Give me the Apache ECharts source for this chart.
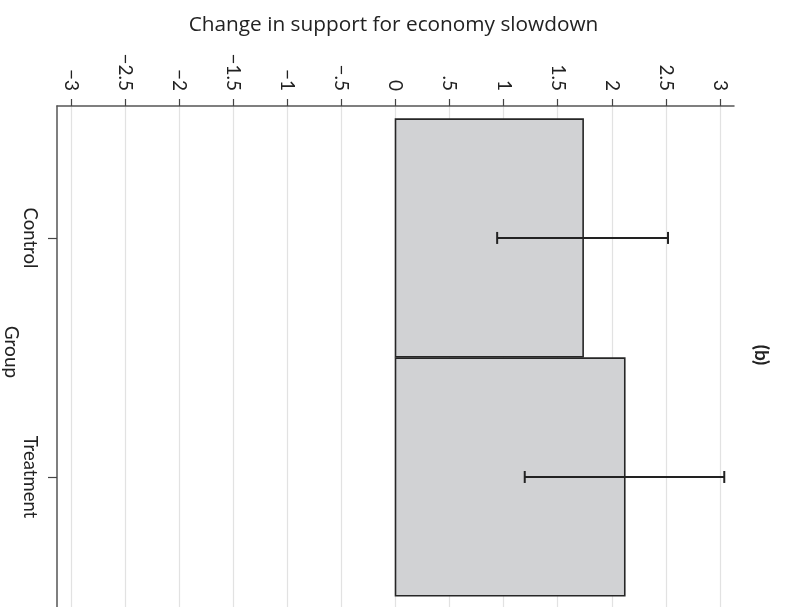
<!DOCTYPE html>
<html>
<head>
<meta charset="utf-8">
<script src="https://cdn.jsdelivr.net/npm/echarts@6/dist/echarts.min.js"></script>
<style>
  html, body { margin: 0; padding: 0; background: #fff; }
  #chart { width: 787px; height: 607px; }
</style>
</head>
<body>
<div id="chart"></div>
<script>
// Groups and their mean change, with confidence bounds
const categories = ['Control', 'Treatment'];
const meanChange = [1.735, 2.12];
const ciLower = [0.94, 1.195];
const ciUpper = [2.52, 3.04];

// Value-axis ticks and their printed labels
const tickValues = [-3, -2.5, -2, -1.5, -1, -0.5, 0, 0.5, 1, 1.5, 2, 2.5, 3];
const tickLabels = ['\u22123', '\u22122.5', '\u22122', '\u22121.5', '\u22121', '\u2212.5', '0', '.5', '1', '1.5', '2', '2.5', '3'];

const titleText = 'Change in support for economy slowdown';
const groupAxisName = 'Group';
const panelTag = '(b)';

const FONT = 'Lato';
const TEXT = '#222';

const chart = echarts.init(document.getElementById('chart'));

const barData = categories.map((c, i) => [meanChange[i], i + 1]);
const ciData = categories.map((c, i) => [i + 1, ciLower[i], ciUpper[i]]);

// Rotated side text (reads top to bottom)
function sideText(text, x, y, bold) {
  return {
    type: 'text',
    x: x,
    y: y,
    rotation: -Math.PI / 2,
    style: {
      text: text,
      fontFamily: FONT,
      fontSize: 19,
      fontWeight: bold ? 'bold' : 'normal',
      fill: TEXT,
      align: 'center',
      verticalAlign: 'middle'
    }
  };
}

chart.setOption({
  animation: false,
  backgroundColor: '#fff',
  title: {
    text: titleText,
    left: 'center',
    top: 10,
    textStyle: { fontFamily: 'Open Sans', fontSize: 20.8, fontWeight: 'normal', color: TEXT }
  },
  graphic: [
    sideText(groupAxisName, 11, 352, false),
    sideText(panelTag, 761, 355, true)
  ],
  grid: { left: 57, right: 53, top: 106, bottom: 0, containLabel: false, outerBoundsMode: 'none' },
  xAxis: {
    type: 'value',
    position: 'top',
    min: -3.13,
    max: 3.13,
    axisLine: { show: true, onZero: false, lineStyle: { color: '#555', width: 1.5 } },
    axisTick: {
      show: true,
      length: 7,
      customValues: tickValues,
      lineStyle: { color: '#444', width: 1.2 }
    },
    axisLabel: {
      customValues: tickValues,
      rotate: 90,
      margin: 15,
      fontFamily: FONT,
      fontSize: 19,
      color: TEXT,
      formatter: v => {
        const k = tickValues.findIndex(t => Math.abs(t - v) < 1e-6);
        return k >= 0 ? tickLabels[k] : '';
      }
    },
    splitLine: { show: true, lineStyle: { color: '#e2e2e2', width: 1.2 } }
  },
  yAxis: {
    type: 'value',
    inverse: true,
    min: 0.448,
    max: 2.544,
    axisLine: { show: true, onZero: false, lineStyle: { color: '#555', width: 1.5 } },
    axisTick: {
      show: true,
      length: 9,
      customValues: [1, 2],
      lineStyle: { color: '#444', width: 1.2 }
    },
    axisLabel: {
      customValues: [1, 2],
      rotate: -90,
      margin: 18,
      fontFamily: FONT,
      fontSize: 18.5,
      color: TEXT,
      formatter: v => categories[Math.round(v) - 1] || ''
    },
    splitLine: { show: false }
  },
  series: [
    {
      // Horizontal bars starting at zero, one per group
      type: 'custom',
      name: 'mean',
      encode: { x: 0, y: 1 },
      data: barData,
      renderItem: (params, api) => {
        const v = api.value(0);
        const g = api.value(1);
        const p0 = api.coord([0, g]);
        const p1 = api.coord([v, g]);
        const h = api.size([0, 1])[1] * 0.994;
        return {
          type: 'rect',
          shape: { x: p0[0], y: p0[1] - h / 2, width: p1[0] - p0[0], height: h },
          style: { fill: '#d1d2d4', stroke: '#262626', lineWidth: 1.6 }
        };
      },
      z: 2
    },
    {
      // Confidence interval whiskers with end caps
      type: 'custom',
      name: 'ci',
      encode: { x: [1, 2], y: 0 },
      data: ciData,
      renderItem: (params, api) => {
        const g = api.value(0);
        const a = api.coord([api.value(1), g]);
        const b = api.coord([api.value(2), g]);
        const cap = 6;
        const st = { stroke: '#222', lineWidth: 2 };
        return {
          type: 'group',
          children: [
            { type: 'line', shape: { x1: a[0], y1: a[1], x2: b[0], y2: b[1] }, style: st },
            { type: 'line', shape: { x1: a[0], y1: a[1] - cap, x2: a[0], y2: a[1] + cap }, style: st },
            { type: 'line', shape: { x1: b[0], y1: b[1] - cap, x2: b[0], y2: b[1] + cap }, style: st }
          ]
        };
      },
      z: 3
    }
  ]
});
</script>
</body>
</html>
